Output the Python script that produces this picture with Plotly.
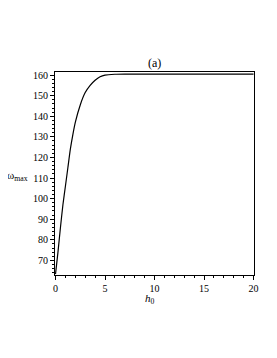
import plotly.graph_objects as go

h0 = [0, 0.25, 0.5, 0.75, 1.0, 1.25, 1.5, 1.75, 2.0, 2.5, 3.0, 3.5, 4.0, 4.5, 5.0, 6.0, 7.0, 8.0, 10.0, 15.0, 20.0]
omega_max = [63.3, 74, 86, 97, 106, 115, 124, 131, 137, 145.5, 151.5, 155, 157.5, 159.2, 160.0, 160.4, 160.5, 160.5, 160.5, 160.5, 160.5]
x_ticks = [0, 5, 10, 15, 20]
y_ticks = [70, 80, 90, 100, 110, 120, 130, 140, 150, 160]

fig = go.Figure()
fig.add_trace(go.Scatter(x=h0, y=omega_max, mode="lines",
                         line=dict(color="black", width=1.2, shape="spline", smoothing=0.6),
                         showlegend=False, hoverinfo="skip"))

font = dict(family="Liberation Serif, Times New Roman, serif", size=10, color="black")
axis_common = dict(showline=True, linecolor="black", linewidth=1, mirror=True,
                   ticks="outside", ticklen=4, tickcolor="black", tickwidth=1,
                   showgrid=False, zeroline=False, tickfont=font)
fig.update_xaxes(range=[-0.05, 20.05], tickvals=x_ticks,
                 minor=dict(dtick=1, ticks="outside", ticklen=2, tickcolor="black"),
                 **axis_common)
fig.update_yaxes(range=[62.9, 161.5], tickvals=y_ticks,
                 minor=dict(dtick=2, ticks="outside", ticklen=2, tickcolor="black"),
                 **axis_common)

# page body has an 8px default margin; shift the figure up/left to compensate
fig.update_layout(
    width=277, height=358,
    margin=dict(l=47, r=31, t=64, b=91),
    paper_bgcolor="white", plot_bgcolor="white",
    font=font,
    annotations=[
        dict(text="(a)", x=0.5, y=1.0, xref="paper", yref="paper", xanchor="center", yanchor="bottom",
             showarrow=False, font=dict(family="Liberation Serif, serif", size=12, color="black")),
        dict(text="ω<sub>max</sub>", x=-0.125, y=0.49, xref="paper", yref="paper", xanchor="right", yanchor="middle",
             showarrow=False, font=dict(family="Liberation Serif, serif", size=11, color="black")),
        dict(text="<i>h</i><sub>0</sub>", x=0.475, y=-0.075, xref="paper", yref="paper", xanchor="center", yanchor="top",
             showarrow=False, font=dict(family="Liberation Serif, serif", size=11, color="black")),
    ],
)

fig.write_html("out.html")
